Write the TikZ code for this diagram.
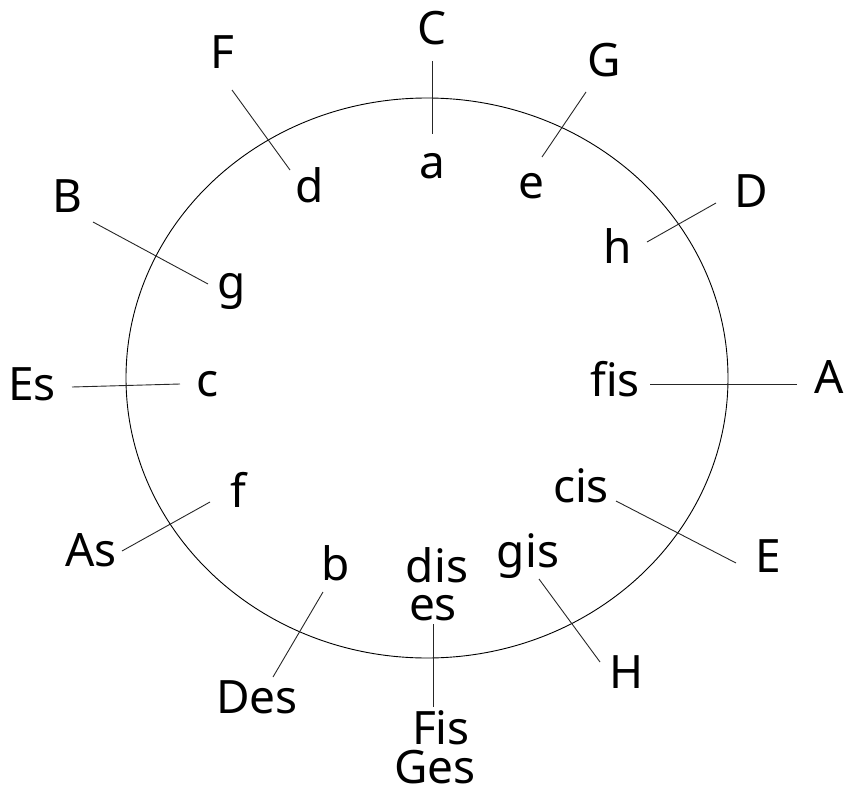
\documentclass[tikz,border=0pt]{standalone}
\usepackage{fontspec}
\setmainfont{Noto Sans}

\begin{document}
\begin{tikzpicture}[x=1pt,y=-1pt,
   key/.style={anchor=base,inner sep=0pt,font=\fontsize{46}{50}\selectfont},
   spoke/.style={line width=0.9pt,color=black!85}]

   \useasboundingbox (0,0) rectangle (847,792);

   % the circle
   \draw[line width=0.9pt] (427,378) ellipse (301 and 280);

   % major keys outside
   \node[key] (C)   at (432,45)  {C};
   \node[key] (G)   at (604,77)  {G};
   \node[key] (D)   at (751,207) {D};
   \node[key] (A)   at (829,393) {A};
   \node[key] (E)   at (768,572) {E};
   \node[key] (H)   at (627,688) {H};
   \node[key] (Fis) at (441,744) {Fis};
   \node[key] (Ges) at (435,783) {Ges};
   \node[key] (Des) at (257,713) {Des};
   \node[key] (As)  at (91,566)  {As};
   \node[key] (Es)  at (32,400)  {Es};
   \node[key] (B)   at (67,212)  {B};
   \node[key] (F)   at (222,69)  {F};

   % minor keys inside
   \node[key] (a)   at (432,178) {a};
   \node[key] (e)   at (531,198) {e};
   \node[key] (h)   at (618,263) {h};
   \node[key] (fis) at (615,396) {fis};
   \node[key] (cis) at (581,502) {cis};
   \node[key] (gis) at (528,567) {gis};
   \node[key] (dis) at (437,582) {dis};
   \node[key] (es)  at (433,620) {es};
   \node[key] (b)   at (336,580) {b};
   \node[key] (f)   at (238,507) {f};
   \node[key] (c)   at (208,396) {c};
   \node[key] (g)   at (232,298) {g};
   \node[key] (d)   at (310,202) {d};

   % spokes
   \draw[spoke] (432,61)  coordinate (C1)   -- (432,134) coordinate (a1);
   \draw[spoke] (586,92)  coordinate (G1)   -- (542,157) coordinate (e1);
   \draw[spoke] (716,203) coordinate (D1)   -- (647,242) coordinate (h1);
   \draw[spoke] (797,384) coordinate (A1)   -- (650,384) coordinate (fis1);
   \draw[spoke] (736,563) coordinate (E1)   -- (616,501) coordinate (cis1);
   \draw[spoke] (600,662) coordinate (H1)   -- (539,579) coordinate (gis1);
   \draw[spoke] (433,707) coordinate (Fis1) -- (433,624) coordinate (es1);
   \draw[spoke] (273,677) coordinate (Des1) -- (323,592) coordinate (b1);
   \draw[spoke] (122,551) coordinate (As1)  -- (210,502) coordinate (f1);
   \draw[spoke] (72,387)  coordinate (Es1)  -- (180,384) coordinate (c1);
   \draw[spoke] (93,222)  coordinate (B1)   -- (208,284) coordinate (g1);
   \draw[spoke] (232,90)  coordinate (F1)   -- (290,170) coordinate (d1);

\end{tikzpicture}
\end{document}
